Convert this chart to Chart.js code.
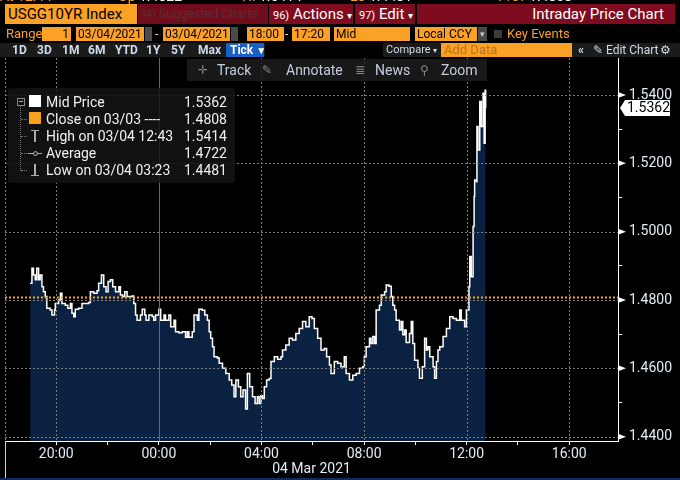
<!DOCTYPE html>
<html>
<head>
	<title>USGG10YR Intraday Price Chart</title>
	<script src="https://cdn.jsdelivr.net/npm/chart.js@4.4.0/dist/chart.umd.min.js"></script>
<style>
	body { margin: 0; background: #000; width: 680px; height: 480px; overflow: hidden; position: relative; font-family: Roboto, 'Liberation Sans', sans-serif; }
	#chart { position: absolute; left: 0; top: 0; }
	.a { position: absolute; white-space: nowrap; }
	.r1 { top: 4px; height: 20px; line-height: 20px; font-size: 15px; }
	.r2 { top: 27px; height: 14px; line-height: 14px; font-size: 12px; }
	.r3 { top: 43px; height: 14px; line-height: 14px; font-size: 12px; color: #d2dbea; font-weight: bold; }
	.org { background: #fba125; color: #000; }
	.red { background: #7e0c1e; color: #fff; }
	.num { font-size: 11px; }
	.lg { left: 46px; height: 16px; line-height: 16px; font-size: 14px; color: #f0f0f0; }
	.lv { left: 170px; width: 57px; text-align: right; }
	.tb { top: 59px; height: 22px; line-height: 22px; font-size: 14px; color: #c3cde0; }
</style>
</head>
<body>
<canvas id="chart" width="680" height="480"></canvas>

<!-- clipped quote line at the very top -->
<div class="a" style="top:-11px; left:0; font-size:14px; line-height:14px; color:#fff;">
	<span style="color:#fba125;">At 12:44</span>
	<span style="position:absolute; left:118px;"><span style="color:#fba125;">Op</span> 1.4822</span>
	<span style="position:absolute; left:242px;"><span style="color:#fba125;">Hi</span> 1.5414</span>
	<span style="position:absolute; left:350px;"><span style="color:#fba125;">Lo</span> 1.4481</span>
	<span style="position:absolute; left:498px;"><span style="color:#fba125;">Prev</span> 1.4808</span>
</div>

<!-- row 1 -->
<div class="a r1 org" style="left:5px; width:129px; padding-left:3px;">USGG10YR Index</div>
<div class="a r1" style="left:138px; width:127px; padding-left:3px; overflow:hidden; background:#700c1b; color:#5e2f37; font-size:12.5px;"><span style="font-size:10px;">94)</span> Suggested Charts</div>
<div class="a r1 red" style="left:269px; width:80px; padding-left:4px;"><span class="num">96)</span> Actions <span style="font-size:10px;">▾</span></div>
<div class="a r1 red" style="left:355px; width:56px; padding-left:4px;"><span class="num">97)</span> Edit <span style="font-size:10px;">▾</span></div>
<div class="a r1 red" style="left:417px; width:247px; padding-right:11px; text-align:right;">Intraday Price Chart</div>

<!-- row 2 -->
<div class="a r2" style="left:6px; color:#fba125; font-size:13px;">Range</div>
<div class="a r2 org" style="left:42px; width:27px; padding-right:2px; text-align:right;">1</div>
<div class="a r2 org" style="left:76px; width:66px; padding-left:2px;">03/04/2021</div>
<div class="a r2" style="left:145px; width:7px; background:#4a4a4a;"></div>
<div class="a r2" style="left:155px; color:#ddd;">-</div>
<div class="a r2 org" style="left:163px; width:65px; padding-left:2px;">03/04/2021</div>
<div class="a r2" style="left:231px; width:7px; background:#4a4a4a;"></div>
<div class="a r2 org" style="left:247px; width:35px; padding-left:2px;">18:00</div>
<div class="a r2" style="left:285px; color:#ddd;">-</div>
<div class="a r2 org" style="left:292px; width:36px; padding-left:2px;">17:20</div>
<div class="a r2 org" style="left:334px; width:74px; padding-left:2px;">Mid</div>
<div class="a r2 org" style="left:415px; width:60px; padding-left:2px;">Local CCY</div>
<div class="a r2" style="left:478px; width:9px; background:#4a4a4a; color:#ccc; font-size:9px; text-align:center;">▾</div>
<div class="a" style="left:494px; top:30px; width:8px; height:8px; background:#3c3c3c;"></div>
<div class="a r2" style="left:507px; color:#fba125; font-size:13px;">Key Events</div>

<!-- row 3 -->
<div class="a" style="left:0; top:43px; width:265px; height:14px; background:#1b1b1b;"></div>
<div class="a" style="left:383px; top:43px; width:297px; height:14px; background:#1b1b1b;"></div>
<div class="a r3" style="left:12px;">1D</div>
<div class="a r3" style="left:37px;">3D</div>
<div class="a r3" style="left:62px;">1M</div>
<div class="a r3" style="left:88px;">6M</div>
<div class="a r3" style="left:115px;">YTD</div>
<div class="a r3" style="left:146px;">1Y</div>
<div class="a r3" style="left:171px;">5Y</div>
<div class="a r3" style="left:198px;">Max</div>
<div class="a r3" style="left:226px; width:34px; padding-left:4px; background:#1a5fc4; color:#fff;">Tick <span style="font-size:10px;">▼</span></div>
<div class="a r3" style="left:386px; font-weight:normal; font-size:11px;">Compare <span style="font-size:8px;">▾</span></div>
<div class="a r3" style="left:441px; width:128px; padding-left:3px; background:#fba125; color:#b8741c; font-weight:normal; font-size:13px;">Add Data</div>
<div class="a r3" style="left:578px;">«</div>
<div class="a r3" style="left:593px; font-weight:normal;">✎ Edit Chart</div>
<div class="a r3" style="left:660px; font-family:'DejaVu Sans';">⚙</div>

<!-- chart toolbar -->
<div class="a" style="left:187px; top:59px; width:300px; height:22px; background:rgba(28,28,28,0.85);"></div>
<div class="a tb" style="left:198px; font-family:'DejaVu Sans'; font-size:12px; color:#888;">✛</div>
<div class="a tb" style="left:217px;">Track</div>
<div class="a tb" style="left:262px; font-family:'DejaVu Sans'; font-size:12px; color:#888;">✎</div>
<div class="a tb" style="left:286px;">Annotate</div>
<div class="a tb" style="left:355px; font-family:'DejaVu Sans'; font-size:12px; color:#888;">≣</div>
<div class="a tb" style="left:375px;">News</div>
<div class="a tb" style="left:420px; font-family:'DejaVu Sans'; font-size:12px; color:#888;">⚲</div>
<div class="a tb" style="left:441px;">Zoom</div>

<!-- legend panel -->
<div class="a" style="left:8px; top:88px; width:227px; height:95px; background:rgba(20,20,20,0.85); border-radius:3px;"></div>
<div class="a" style="left:17px; top:98px; width:6px; height:6px; border:1px solid #888;"></div>
<div class="a" style="left:19px; top:101px; width:4px; height:1px; background:#aaa;"></div>
<div class="a" style="left:20px; top:106px; width:0; height:65px; border-left:1px dotted #777;"></div>
<div class="a" style="left:21px; top:119px; width:6px; border-top:1px dotted #777;"></div>
<div class="a" style="left:21px; top:136px; width:6px; border-top:1px dotted #777;"></div>
<div class="a" style="left:21px; top:153px; width:6px; border-top:1px dotted #777;"></div>
<div class="a" style="left:21px; top:170px; width:6px; border-top:1px dotted #777;"></div>
<div class="a" style="left:29px; top:95px; width:12px; height:12px; background:#fff;"></div>
<div class="a" style="left:29px; top:112px; width:12px; height:12px; background:#f7a21b;"></div>
<div class="a" style="left:31px; top:130px; width:8px; height:1px; background:#aaa;"></div>
<div class="a" style="left:34px; top:130px; width:2px; height:12px; background:#aaa;"></div>
<div class="a" style="left:28px; top:153px; width:14px; height:1px; background:#aaa;"></div>
<div class="a" style="left:33px; top:151px; width:3px; height:3px; border:1px solid #aaa; border-radius:3px; background:#222;"></div>
<div class="a" style="left:34px; top:164px; width:2px; height:12px; background:#aaa;"></div>
<div class="a" style="left:31px; top:175px; width:8px; height:1px; background:#aaa;"></div>
<div id="legend"></div>

<!-- frame below the time axis -->
<div class="a" style="left:5px; top:441px; width:1px; height:37px; background:#cfcfcf;"></div>
<div class="a" style="left:0; top:478px; width:680px; height:2px; background:#0d2c5e;"></div>

<script lang="text/javascript">
// hours from midnight 04 Mar 2021 (negative = evening of 03 Mar)
var times = [
	-5.02, -4.95, -4.89, -4.82, -4.76, -4.69, -4.63, -4.56, -4.50, -4.43, -4.37, -4.24, -4.17, -4.07, -4.04, -3.91,
	-3.84, -3.78, -3.65, -3.55, -3.45, -3.39, -3.32, -3.26, -3.13, -3.00, -2.74, -2.67, -2.54, -2.41, -2.35, -2.24,
	-2.15, -2.06, -1.98, -1.89, -1.80, -1.69, -1.56, -1.50, -1.41, -1.33, -1.24, -1.04, -0.98, -0.91, -0.85, -0.72,
	-0.65, -0.55, -0.50, -0.39, -0.26, -0.20, -0.13, 0.00, 0.07, 0.20, 0.26, 0.39, 0.46, 0.59, 0.65, 0.78,
	0.91, 1.04, 1.11, 1.17, 1.30, 1.37, 1.50, 1.56, 1.69, 1.79, 1.89, 1.96, 2.02, 2.09, 2.15, 2.28,
	2.35, 2.48, 2.61, 2.74, 2.84, 2.93, 3.00, 3.10, 3.19, 3.28, 3.38, 3.45, 3.54, 3.65, 3.75, 3.84,
	3.91, 3.98, 4.04, 4.11, 4.20, 4.30, 4.37, 4.50, 4.63, 4.76, 4.82, 4.95, 5.08, 5.21, 5.34, 5.47,
	5.60, 5.73, 5.86, 5.97, 6.06, 6.19, 6.32, 6.45, 6.54, 6.65, 6.71, 6.84, 6.97, 7.10, 7.23, 7.30,
	7.43, 7.56, 7.69, 7.82, 7.95, 8.01, 8.08, 8.21, 8.27, 8.34, 8.41, 8.47, 8.60, 8.67, 8.80, 8.86,
	8.97, 9.06, 9.12, 9.19, 9.25, 9.38, 9.45, 9.51, 9.58, 9.64, 9.77, 9.84, 9.90, 9.97, 10.10, 10.16,
	10.27, 10.36, 10.43, 10.49, 10.56, 10.69, 10.75, 10.82, 10.88, 10.95, 11.08, 11.21, 11.34, 11.47, 11.60, 11.73,
	11.79, 11.92, 11.99, 12.09, 12.12, 12.18, 12.25, 12.29, 12.31, 12.38, 12.40, 12.44, 12.51, 12.57, 12.64, 12.68,
	12.72, 12.74
];
var prices = [
	1.4849, 1.4893, 1.4873, 1.4859, 1.4893, 1.4859, 1.4873, 1.4839, 1.4824, 1.4810, 1.4776, 1.4771, 1.4756, 1.4771, 1.4790, 1.4800,
	1.4820, 1.4790, 1.4785, 1.4776, 1.4790, 1.4761, 1.4751, 1.4773, 1.4776, 1.4790, 1.4793, 1.4824, 1.4820, 1.4827, 1.4849, 1.4873,
	1.4839, 1.4824, 1.4854, 1.4859, 1.4839, 1.4824, 1.4839, 1.4815, 1.4810, 1.4824, 1.4810, 1.4812, 1.4790, 1.4756, 1.4741, 1.4756,
	1.4773, 1.4756, 1.4741, 1.4756, 1.4752, 1.4741, 1.4756, 1.4773, 1.4741, 1.4756, 1.4741, 1.4756, 1.4722, 1.4741, 1.4707, 1.4704,
	1.4707, 1.4691, 1.4707, 1.4691, 1.4707, 1.4756, 1.4741, 1.4773, 1.4770, 1.4756, 1.4741, 1.4707, 1.4688, 1.4663, 1.4634, 1.4630,
	1.4615, 1.4600, 1.4585, 1.4566, 1.4551, 1.4517, 1.4566, 1.4546, 1.4517, 1.4537, 1.4481, 1.4585, 1.4546, 1.4517, 1.4497, 1.4517,
	1.4497, 1.4520, 1.4512, 1.4546, 1.4566, 1.4570, 1.4620, 1.4634, 1.4627, 1.4634, 1.4654, 1.4668, 1.4688, 1.4683, 1.4702, 1.4717,
	1.4737, 1.4722, 1.4751, 1.4746, 1.4717, 1.4688, 1.4654, 1.4658, 1.4634, 1.4610, 1.4585, 1.4620, 1.4615, 1.4605, 1.4634, 1.4585,
	1.4566, 1.4580, 1.4585, 1.4600, 1.4605, 1.4634, 1.4663, 1.4688, 1.4673, 1.4693, 1.4673, 1.4771, 1.4785, 1.4815, 1.4824, 1.4844,
	1.4840, 1.4810, 1.4785, 1.4771, 1.4741, 1.4712, 1.4737, 1.4698, 1.4712, 1.4676, 1.4702, 1.4737, 1.4673, 1.4624, 1.4600, 1.4571,
	1.4605, 1.4688, 1.4654, 1.4663, 1.4634, 1.4605, 1.4571, 1.4620, 1.4654, 1.4663, 1.4693, 1.4717, 1.4751, 1.4746, 1.4741, 1.4771,
	1.4741, 1.4722, 1.4771, 1.4839, 1.4927, 1.4868, 1.5015, 1.5103, 1.5151, 1.5146, 1.5308, 1.5239, 1.5381, 1.5308, 1.5405, 1.5259,
	1.5414, 1.5362
];
var lastPrice = 1.5362;
var prevClose = 1.4808;

var legendNames = ['Mid Price', 'Close on 03/03 ----', 'High on 03/04 12:43', 'Average', 'Low on 03/04 03:23'];
var legendValues = ['1.5362', '1.4808', '1.5414', '1.4722', '1.4481'];

var xTickHours = [-6, -4, -2, 0, 2, 4, 6, 8, 10, 12, 14, 16];
var xTickLabels = ['', '20:00', '', '00:00', '', '04:00', '', '08:00', '', '12:00', '', '16:00'];
var xGridHours = [-6, -4, 4, 8, 12, 16];
var yTickValues = [1.44, 1.45, 1.46, 1.47, 1.48, 1.49, 1.50, 1.51, 1.52, 1.53, 1.54];
var yTickLabels = ['1.4400', '', '1.4600', '', '1.4800', '', '1.5000', '', '1.5200', '', '1.5400'];

var legendDiv = document.getElementById('legend');
for (var i = 0; i < legendNames.length; i++) {
	var rowTop = 94 + i * 17;
	legendDiv.innerHTML += '<div class="a lg" style="top:' + rowTop + 'px;">' + legendNames[i] + '</div>' +
		'<div class="a lg lv" style="top:' + rowTop + 'px;">' + legendValues[i] + '</div>';
}

var points = [];
for (var i = 0; i < times.length; i++)
	points.push({ x : times[i], y : prices[i] });

function line(ctx, x1, y1, x2, y2) {
	ctx.beginPath();
	ctx.moveTo(x1, y1);
	ctx.lineTo(x2, y2);
	ctx.stroke();
}

// grid goes over the filled area, as on the terminal
var gridOver = {
	id : 'gridOver',
	afterDatasetsDraw : function(chart) {
		var ctx = chart.ctx;
		var area = chart.chartArea;
		var xs = chart.scales.x;
		var ys = chart.scales.y;

		ctx.save();
		ctx.lineWidth = 1;
		ctx.strokeStyle = '#7c7c7c';
		ctx.setLineDash([2, 2]);
		for (var i = 0; i < xGridHours.length; i++) {
			var x = Math.round(xs.getPixelForValue(xGridHours[i])) + 0.5;
			line(ctx, x, area.top, x, area.bottom);
		}
		for (var i = 0; i < yTickValues.length; i++) {
			if (!yTickLabels[i])
				continue;
			var y = Math.round(ys.getPixelForValue(yTickValues[i])) + 0.5;
			line(ctx, area.left, y, area.right, y);
		}
		// midnight, solid
		ctx.setLineDash([]);
		ctx.strokeStyle = '#6a6a6a';
		var x0 = Math.round(xs.getPixelForValue(0)) + 0.5;
		line(ctx, x0, area.top, x0, area.bottom);
		ctx.restore();
	}
};

var overlay = {
	id : 'overlay',
	afterDraw : function(chart) {
		var ctx = chart.ctx;
		var area = chart.chartArea;
		var ys = chart.scales.y;

		// previous close, dotted orange
		var yc = Math.round(ys.getPixelForValue(prevClose)) + 0.5;
		ctx.save();
		ctx.strokeStyle = '#f7a21b';
		ctx.lineWidth = 2;
		ctx.setLineDash([2, 2]);
		line(ctx, area.left, yc, area.right, yc);
		ctx.restore();

		// arrow marks on the price axis
		ctx.save();
		ctx.fillStyle = '#fff';
		for (var i = 0; i < yTickValues.length; i++) {
			if (!yTickLabels[i])
				continue;
			var y = ys.getPixelForValue(yTickValues[i]);
			ctx.beginPath();
			ctx.moveTo(area.right, y - 3);
			ctx.lineTo(area.right + 8, y);
			ctx.lineTo(area.right, y + 3);
			ctx.closePath();
			ctx.fill();
		}

		// last price tag
		var yl = ys.getPixelForValue(lastPrice);
		ctx.beginPath();
		ctx.moveTo(area.right + 2, yl);
		ctx.lineTo(area.right + 7, yl - 8);
		ctx.lineTo(area.right + 52, yl - 8);
		ctx.lineTo(area.right + 52, yl + 8);
		ctx.lineTo(area.right + 7, yl + 8);
		ctx.closePath();
		ctx.fill();
		ctx.fillStyle = '#000';
		ctx.font = '14px Roboto';
		ctx.textBaseline = 'middle';
		ctx.fillText(lastPrice.toFixed(4), area.right + 9, yl + 1);
		ctx.restore();
	}
};

var chart = new Chart(document.getElementById('chart'), {
	type : 'line',
	data : {
		datasets : [{
			data : points,
			stepped : true,
			borderColor : '#ffffff',
			borderWidth : 1.5,
			pointRadius : 0,
			fill : 'start',
			backgroundColor : '#0b2142'
		}]
	},
	options : {
		responsive : false,
		animation : false,
		layout : {
			padding : { left : 5, top : 58, right : 0, bottom : 0 }
		},
		plugins : {
			legend : { display : false },
			tooltip : { enabled : false }
		},
		scales : {
			x : {
				type : 'linear',
				min : -6,
				max : 17.9,
				z : 1,
				afterBuildTicks : function(axis) {
					axis.ticks = xTickHours.map(function(v) { return { value : v }; });
				},
				afterFit : function(axis) {
					axis.height = 39;
				},
				ticks : {
					autoSkip : false,
					maxRotation : 0,
					color : '#e3ecf5',
					font : { family : 'Roboto', size : 14 },
					padding : 1,
					callback : function(value, index) {
						return xTickLabels[index];
					}
				},
				grid : {
					drawOnChartArea : false,
					color : '#ffffff',
					tickColor : '#ffffff',
					tickLength : 4
				},
				border : { color : '#ffffff' },
				title : {
					display : true,
					text : '04 Mar 2021',
					color : '#e3ecf5',
					font : { family : 'Roboto', size : 14 },
					padding : { top : 0, bottom : 2 }
				}
			},
			y : {
				position : 'right',
				min : 1.43874,
				max : 1.55083,
				z : 1,
				afterBuildTicks : function(axis) {
					axis.ticks = yTickValues.map(function(v) { return { value : v }; });
				},
				afterFit : function(axis) {
					axis.width = 62;
				},
				ticks : {
					color : '#e3ecf5',
					font : { family : 'Roboto', size : 14 },
					padding : 7,
					callback : function(value, index) {
						return yTickLabels[index];
					}
				},
				grid : {
					drawOnChartArea : false,
					tickColor : function(c) {
						return yTickLabels[c.index] ? 'rgba(0,0,0,0)' : '#ffffff';
					},
					tickLength : 4
				},
				border : { color : '#ffffff' }
			}
		}
	},
	plugins : [gridOver, overlay]
});
</script>
</body>
</html>
